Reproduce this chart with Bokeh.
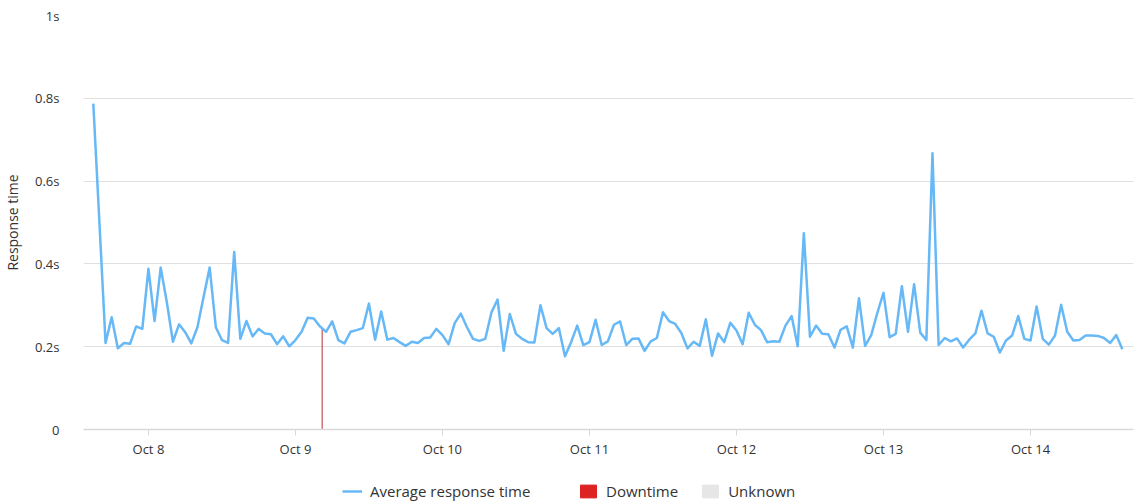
import numpy as np
import pandas as pd
from bokeh.plotting import figure
from bokeh.layouts import column
from bokeh.models import (Range1d, FixedTicker, DatetimeTickFormatter, Legend,
                          LegendItem, ColumnDataSource)
from bokeh.embed import file_html
from bokeh.resources import INLINE

# ---------------- data ----------------
start_time = "2023-10-07 15:00"   # hourly samples
response_time_s = [
    0.787, 0.500, 0.209, 0.271, 0.196, 0.209, 0.207, 0.249, 0.243, 0.388,
    0.262, 0.391, 0.308, 0.212, 0.254, 0.235, 0.208, 0.247, 0.320, 0.391,
    0.247, 0.216, 0.209, 0.429, 0.219, 0.262, 0.225, 0.243, 0.232, 0.230,
    0.206, 0.225, 0.201, 0.216, 0.236, 0.270, 0.268, 0.249, 0.236, 0.261,
    0.216, 0.208, 0.236, 0.240, 0.245, 0.304, 0.217, 0.285, 0.217, 0.221,
    0.211, 0.202, 0.212, 0.209, 0.221, 0.222, 0.243, 0.228, 0.206, 0.257,
    0.280, 0.247, 0.219, 0.214, 0.219, 0.283, 0.314, 0.190, 0.279, 0.231,
    0.219, 0.211, 0.210, 0.300, 0.245, 0.231, 0.245, 0.177, 0.211, 0.251,
    0.204, 0.211, 0.265, 0.204, 0.213, 0.253, 0.261, 0.204, 0.219, 0.220,
    0.190, 0.213, 0.221, 0.283, 0.262, 0.255, 0.233, 0.196, 0.212, 0.202,
    0.266, 0.178, 0.232, 0.211, 0.258, 0.239, 0.206, 0.282, 0.253, 0.240,
    0.211, 0.213, 0.212, 0.251, 0.274, 0.201, 0.474, 0.224, 0.251, 0.231,
    0.230, 0.198, 0.241, 0.249, 0.198, 0.317, 0.202, 0.228, 0.282, 0.330,
    0.223, 0.231, 0.346, 0.236, 0.351, 0.234, 0.216, 0.667, 0.204, 0.221,
    0.213, 0.220, 0.198, 0.217, 0.232, 0.287, 0.232, 0.224, 0.186, 0.215,
    0.227, 0.274, 0.219, 0.215, 0.297, 0.219, 0.205, 0.227, 0.301, 0.236,
    0.215, 0.216, 0.227, 0.227, 0.226, 0.221, 0.209, 0.228, 0.194,
]
downtime_start = ["2023-10-09 04:17"]
downtime_end = ["2023-10-09 04:26"]

x_tick_dates = ["2023-10-08", "2023-10-09", "2023-10-10", "2023-10-11",
                "2023-10-12", "2023-10-13", "2023-10-14"]
y_tick_values = [0, 0.2, 0.4, 0.6, 0.8, 1.0]
y_tick_labels = ["0", "0.2s", "0.4s", "0.6s", "0.8s", "1s"]

series_name = "Average response time"
downtime_name = "Downtime"
unknown_name = "Unknown"

# ---------------- style ----------------
FONT = "Open Sans"
TXT = "#333333"
BLUE = "#66b8f6"
RED = "#dd2222"
GREY = "#e6e6e6"

# ---------------- build ----------------
times = pd.date_range(start_time, periods=len(response_time_s), freq="h")
to_ms = lambda s: pd.Timestamp(s).value / 1e6
t_ms = np.array([t.value / 1e6 for t in times])
vals = np.array(response_time_s)

src = ColumnDataSource(dict(t=times, v=vals))

ds_left = [to_ms(s) for s in downtime_start]
ds_right = [to_ms(s) for s in downtime_end]
ds_top = [float(np.interp((a + b) / 2, t_ms, vals)) for a, b in zip(ds_left, ds_right)]
down_src = ColumnDataSource(dict(left=ds_left, right=ds_right,
                                 bottom=[0] * len(ds_left), top=ds_top))

p = figure(width=1141, height=475, x_axis_type="datetime",
           x_range=Range1d(pd.Timestamp("2023-10-07 13:24"), pd.Timestamp("2023-10-14 16:49")),
           y_range=Range1d(0, 1),
           output_backend="svg", toolbar_location=None,
           min_border_left=83, min_border_right=8, min_border_top=15, min_border_bottom=46)
p.outline_line_color = None

p.quad(left="left", right="right", bottom="bottom", top="top",
       source=down_src, fill_color="#b41b1b", line_color=None)
p.line(x="t", y="v", source=src, line_color=BLUE, line_width=2.5, line_join="round")

# axes
p.xaxis.ticker = FixedTicker(ticks=[to_ms(d) for d in x_tick_dates])
p.xaxis.formatter = DatetimeTickFormatter(days="%b %-d", months="%b %-d",
                                          hours="%b %-d", years="%b %-d")
p.xaxis.axis_line_color = "#d9d9d9"
p.xaxis.axis_line_width = 1.5
p.xaxis.major_tick_line_color = "#d9d9d9"
p.xaxis.major_tick_out = 6
p.xaxis.major_tick_in = 0
p.xaxis.minor_tick_line_color = None
p.xaxis.major_label_standoff = 4

p.yaxis.ticker = FixedTicker(ticks=y_tick_values)
p.yaxis.major_label_overrides = {v: l for v, l in zip(y_tick_values, y_tick_labels)}
p.yaxis.axis_line_color = None
p.yaxis.major_tick_line_color = None
p.yaxis.minor_tick_line_color = None
p.yaxis.major_label_standoff = 18
p.yaxis.axis_label = "Response time"
p.yaxis.axis_label_standoff = 10
p.yaxis.axis_label_text_font_style = "normal"

for ax in (p.xaxis[0], p.yaxis[0]):
    ax.major_label_text_font = FONT
    ax.major_label_text_font_size = "13px"
    ax.major_label_text_color = TXT
    ax.axis_label_text_font = FONT
    ax.axis_label_text_font_size = "14px"
    ax.axis_label_text_color = TXT

p.xgrid.grid_line_color = None
p.ygrid.ticker = FixedTicker(ticks=y_tick_values)
p.ygrid.grid_line_color = "#e0e0e0"
p.ygrid.grid_line_width = 1

# ---------------- legend strip (frame aligned with the chart's frame) ----------------
lp = figure(width=1141, height=29, x_range=Range1d(0, 1050), y_range=Range1d(0, 29),
            output_backend="svg", toolbar_location=None,
            min_border=0, min_border_left=0, min_border_right=0,
            min_border_top=0, min_border_bottom=0)
lp.outline_line_color = None
lp.axis.visible = False
lp.grid.visible = False
# swatch renderers: their data lie outside the strip's ranges, only the legend shows them
off_line = ColumnDataSource(dict(x=[-50, -40], y=[-50, -50]))
off_quad = ColumnDataSource(dict(left=[-50], right=[-40], bottom=[-50], top=[-40]))
l_line = lp.line(x="x", y="y", source=off_line, line_color=BLUE, line_width=2.5)
l_down = lp.quad(left="left", right="right", bottom="bottom", top="top",
                 source=off_quad, fill_color=RED, line_color=RED, line_width=1)
l_unk = lp.quad(left="left", right="right", bottom="bottom", top="top",
                source=off_quad, fill_color=GREY, line_color=GREY, line_width=1)


def make_legend(items, loc, spacing):
    return Legend(items=items, location=loc, orientation="horizontal",
                  glyph_width=20, glyph_height=16, label_height=16,
                  label_standoff=8, spacing=spacing, padding=0, margin=0,
                  border_line_color=None, background_fill_alpha=0,
                  label_text_font=FONT, label_text_font_size="15px",
                  label_text_color=TXT)


lp.add_layout(make_legend([LegendItem(label=series_name, renderers=[l_line])],
                          (259, 3), 0))
lp.add_layout(make_legend([LegendItem(label=downtime_name, renderers=[l_down]),
                           LegendItem(label=unknown_name, renderers=[l_unk])],
                          (495, 3), 22))

layout = column(p, lp, spacing=0)
open("out.html", "w").write(file_html(layout, INLINE))
